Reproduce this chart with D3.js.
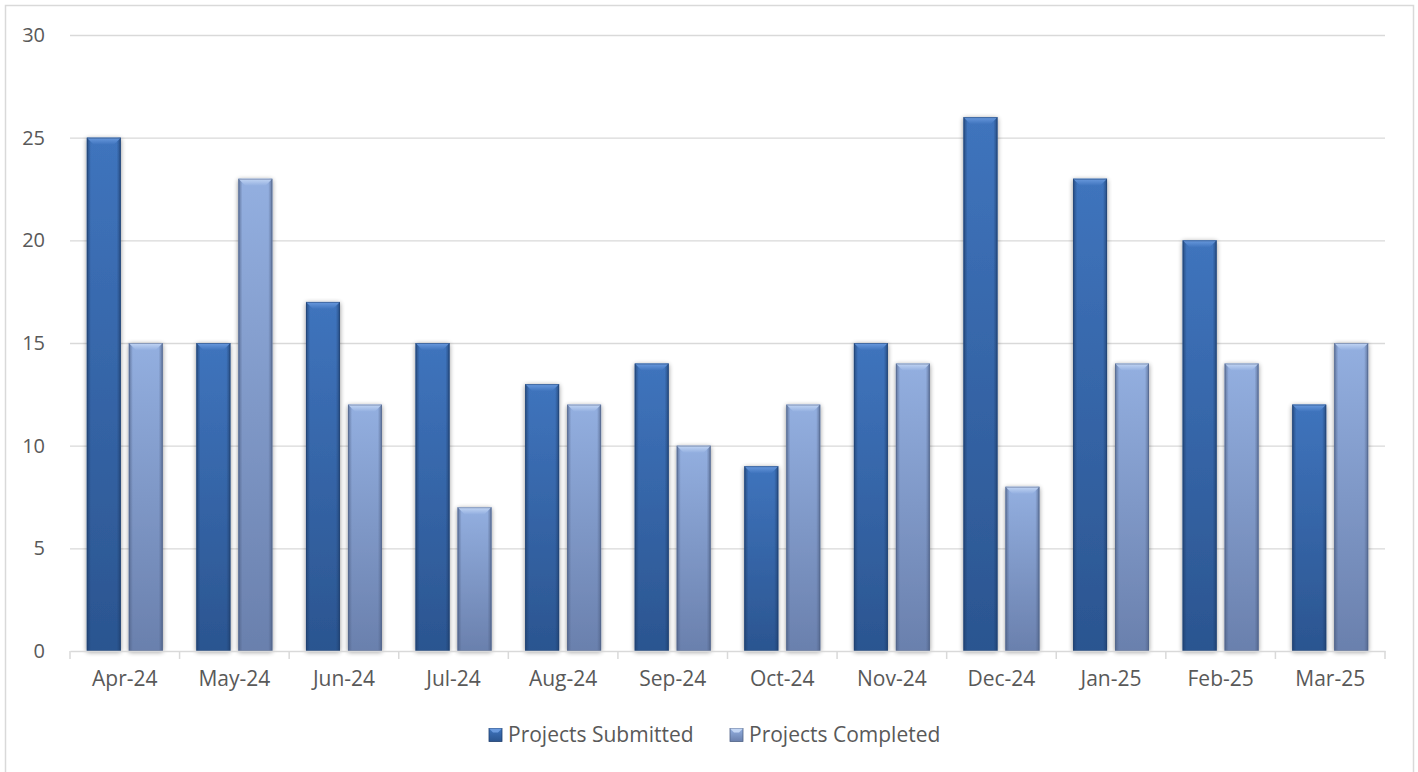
<!DOCTYPE html>
<html><head><meta charset="utf-8">
<script src="https://cdn.jsdelivr.net/npm/d3@7"></script>
<style>body{margin:0;background:#fff;font-family:"Open Sans","Noto Sans",sans-serif;}</style>
</head><body><svg id="c" width="1418" height="772"></svg>
<script>
const categories = ["Apr-24","May-24","Jun-24","Jul-24","Aug-24","Sep-24","Oct-24","Nov-24","Dec-24","Jan-25","Feb-25","Mar-25"];
const seriesNames = ["Projects Submitted","Projects Completed"];
const submitted = [25,15,17,15,13,14,9,15,26,23,20,12];
const completed = [15,23,12,7,12,10,12,14,8,14,14,15];
const yTicks = [0,5,10,15,20,25,30];

const svg = d3.select("#c");
const m = {l:70, r:1385, t:35, b:651};
svg.append("rect").attr("x",5.5).attr("y",5.5).attr("width",1408).attr("height",780).attr("fill","#fff").attr("stroke","#d9d9d9").attr("stroke-width",1.5);

const defs = svg.append("defs");
const pal = [
  {top:"#3f74bd", bot:"#2b5590", side:"#1f3f6e", bevel:"#6a9ade", id:"g0"},
  {top:"#93afe0", bot:"#6a80ad", side:"#4f6186", bevel:"#c3d6f4", id:"g1"}
];
pal.forEach(p=>{
  const g = defs.append("linearGradient").attr("id",p.id).attr("x1",0).attr("x2",0).attr("y1",0).attr("y2",1);
  g.append("stop").attr("offset","0%").attr("stop-color",p.top);
  g.append("stop").attr("offset","100%").attr("stop-color",p.bot);
  const s = defs.append("linearGradient").attr("id",p.id+"s").attr("x1",0).attr("x2",1).attr("y1",0).attr("y2",0);
  s.append("stop").attr("offset","0%").attr("stop-color",p.side).attr("stop-opacity",0.75);
  s.append("stop").attr("offset","12%").attr("stop-color",p.side).attr("stop-opacity",0);
  s.append("stop").attr("offset","88%").attr("stop-color",p.side).attr("stop-opacity",0);
  s.append("stop").attr("offset","100%").attr("stop-color",p.side).attr("stop-opacity",0.75);
  const b = defs.append("linearGradient").attr("id",p.id+"b").attr("x1",0).attr("x2",0).attr("y1",0).attr("y2",1);
  b.append("stop").attr("offset","0%").attr("stop-color",p.bevel);
  b.append("stop").attr("offset","100%").attr("stop-color",p.top);
});
const f = defs.append("filter").attr("id","sh").attr("x","-30%").attr("y","-10%").attr("width","160%").attr("height","120%");
f.append("feGaussianBlur").attr("in","SourceAlpha").attr("stdDeviation",2.5).attr("result","b");
f.append("feOffset").attr("in","b").attr("dx",0).attr("dy",1).attr("result","o");
f.append("feComponentTransfer").attr("in","o").attr("result","o2").append("feFuncA").attr("type","linear").attr("slope",0.45);
const fm = f.append("feMerge"); fm.append("feMergeNode").attr("in","o2"); fm.append("feMergeNode").attr("in","SourceGraphic");

const y = d3.scaleLinear().domain([0,30]).range([m.b,m.t]);
const x = d3.scaleBand().domain(categories).range([m.l,m.r]).paddingInner(0).paddingOuter(0);
const bwF = 0.31, gapF = 0.073;
const bw = x.bandwidth()*bwF, gap = x.bandwidth()*gapF;
const outer = (x.bandwidth() - 2*bw - gap)/2;
const x1 = d3.scaleOrdinal().domain(seriesNames).range([outer, outer+bw+gap]);

// grid
const yAxis = d3.axisLeft(y).tickValues(yTicks).tickSize(-(m.r-m.l)).tickPadding(25);
const ga = svg.append("g").attr("transform",`translate(${m.l},0)`).call(yAxis);
ga.select(".domain").remove();
ga.selectAll(".tick line").attr("stroke","#d9d9d9").attr("stroke-width",1.3).filter(d=>d===0).remove();
ga.selectAll(".tick text").attr("fill","#595959").style("font-size","20px").style("font-family","'Open Sans',sans-serif");

const data = [submitted, completed];
const gb = svg.append("g");
categories.forEach((c,i)=>{
  data.forEach((arr,si)=>{
    const v = arr[i], p = pal[si];
    const bx = x(c)+x1(seriesNames[si]);
    const by = y(v), bh = y(0)-y(v);
    const g = gb.append("g");
    g.append("rect").attr("x",bx).attr("y",by).attr("width",bw).attr("height",bh).attr("fill",`url(#${p.id})`).attr("filter","url(#sh)");
    g.append("rect").attr("x",bx).attr("y",by).attr("width",bw).attr("height",bh).attr("fill",`url(#${p.id}s)`);
    const bev = 7;
    g.append("path").attr("d",`M${bx},${by}L${bx+bw},${by}L${bx+bw-bev},${by+bev}L${bx+bev},${by+bev}Z`).attr("fill",`url(#${p.id}b)`);
    g.append("rect").attr("x",bx+0.5).attr("y",by+0.5).attr("width",bw-1).attr("height",bh-1).attr("fill","none").attr("stroke",p.side).attr("stroke-opacity",0.5).attr("stroke-width",1);
  });
});

// x axis
const xAxis = d3.axisBottom(x).tickSize(0).tickPadding(20);
const gx = svg.append("g").attr("transform",`translate(0,${m.b})`).call(xAxis);
gx.select(".domain").attr("stroke","#d9d9d9").attr("stroke-width",1.5);
gx.selectAll(".tick text").attr("fill","#595959").style("font-size","21px").style("font-family","'Open Sans',sans-serif");
const bounds = categories.map(c=>x(c)).concat([m.r]);
gx.selectAll(".sep").data(bounds).enter().append("line").attr("class","sep")
  .attr("x1",d=>d).attr("x2",d=>d).attr("y1",0).attr("y2",8).attr("stroke","#d9d9d9").attr("stroke-width",1.5);

// legend
const lg = svg.append("g").attr("transform","translate(489,735)");
const lx = [0, 241];
seriesNames.forEach((n,i)=>{
  const p = pal[i];
  const g = lg.append("g").attr("transform",`translate(${lx[i]},0)`);
  g.append("rect").attr("x",0).attr("y",-6.5).attr("width",13).attr("height",13).attr("fill",`url(#${p.id})`).attr("stroke",p.side).attr("stroke-width",0.8);
  g.append("path").attr("d","M0,-6.5L13,-6.5L9,-2.5L4,-2.5Z").attr("fill",p.bevel);
  g.append("text").attr("x",19).attr("y",0).attr("dy","0.35em").attr("fill","#595959").style("font-size","21px").style("font-family","'Open Sans',sans-serif").text(n);
});
</script></body></html>
